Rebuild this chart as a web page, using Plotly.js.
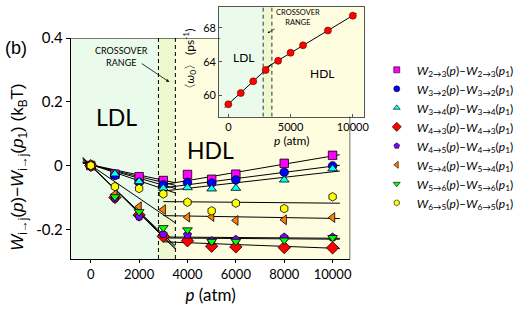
<!DOCTYPE html>
<html><head><meta charset="utf-8">
<script src="https://cdn.plot.ly/plotly-3.0.1.min.js"></script>
<style>body{margin:0;background:#fff}#c{width:525px;height:310px}</style>
</head><body><div id="c"></div>
<script>
// ---- data ----
const pressure = [0, 1000, 2000, 3000, 4000, 5000, 6000, 8000, 10000];
const W23 = [0, -0.027, -0.035, -0.047, -0.028, -0.043, -0.027, 0.007, 0.032];
const W32 = [0, -0.031, -0.053, -0.060, -0.053, -0.055, -0.045, -0.021, -0.001];
const W34 = [0, -0.026, -0.050, -0.071, -0.069, -0.073, -0.071, -0.045, -0.010];
const W43 = [0, -0.100, -0.155, -0.222, -0.236, -0.253, -0.255, -0.257, -0.258];
const W45 = [0, -0.103, -0.160, -0.215, -0.217, -0.236, -0.232, -0.225, -0.225];
const W54 = [0, -0.090, -0.129, -0.138, -0.162, -0.160, -0.172, -0.170, -0.163];
const W56 = [0, -0.098, -0.145, -0.195, -0.202, -0.238, -0.238, -0.234, -0.226];
const W65 = [0, -0.066, -0.072, -0.089, -0.115, -0.142, -0.118, -0.135, -0.098];
// fit line end values (LDL fit over ldlX, HDL fit over hdlX)
const ldlX = [-330, 3500];
const hdlX = [3000, 10300];
const ldlFit = {
  W23: [0.008, -0.054], W32: [0.008, -0.062], W34: [0.010, -0.072], W65: [0.012, -0.086],
  W54: [0.018, -0.180], W45: [0.025, -0.258], W56: [0.022, -0.252], W43: [0.025, -0.262]
};
const hdlFit = {
  W23: [-0.060, 0.034], W32: [-0.070, 0.001], W34: [-0.080, -0.017], W65: [-0.113, -0.118],
  W54: [-0.157, -0.166], W45: [-0.224, -0.228], W56: [-0.227, -0.231], W43: [-0.239, -0.260]
};
const seriesKeys = ['W23', 'W32', 'W34', 'W43', 'W45', 'W54', 'W56', 'W65'];
const seriesVals = {W23, W32, W34, W43, W45, W54, W56, W65};
const seriesSub = {W23: '2→3', W32: '3→2', W34: '3→4', W43: '4→3', W45: '4→5', W54: '5→4', W56: '5→6', W65: '6→5'};
const colors = {W23: '#ff00ff', W32: '#0000ff', W34: '#00ffff', W43: '#ff0000', W45: '#8000ff', W54: '#ff7f00', W56: '#00ff00', W65: '#ffff00'};
const symbols = {W23: 'square', W32: 'circle', W34: 'triangle-up', W43: 'diamond', W45: 'pentagon', W54: 'triangle-left', W56: 'triangle-down', W65: 'hexagon'};
const xTickVals = [0, 2000, 4000, 6000, 8000, 10000];
const xTickText = ['0', '2000', '4000', '6000', '8000', '10000'];
const yTickVals = [-0.2, 0, 0.2, 0.4];
const yTickText = ['-0.2', '0', '0.2', '0.4'];
// inset data
const insetP = [0, 1000, 2000, 3000, 4000, 5000, 6000, 8000, 10000];
const insetW = [58.93, 60.27, 61.66, 63.0, 64.1, 65.06, 65.94, 67.7, 69.46];
const insetLdlX = [-300, 3500], insetLdlY = [58.55, 63.7];
const insetHdlX = [3000, 10300], insetHdlY = [63.25, 69.75];
const insetXTickVals = [0, 5000, 10000], insetXTickText = ['0', '5000', '10000'];
const insetYTickVals = [60, 64, 68];
const crossover = [2800, 3500];

// ---- traces ----
const traces = [];
seriesKeys.forEach(k => {
  traces.push({x: ldlX, y: ldlFit[k], mode: 'lines', line: {color: '#000', width: 1}, showlegend: false, hoverinfo: 'skip'});
  traces.push({x: hdlX, y: hdlFit[k], mode: 'lines', line: {color: '#000', width: 1}, showlegend: false, hoverinfo: 'skip'});
});
seriesKeys.forEach(k => {
  traces.push({
    x: pressure, y: seriesVals[k], mode: 'markers', showlegend: false,
    marker: {color: colors[k], symbol: symbols[k], size: (k === 'W43' ? 9.5 : 8.5), line: {color: '#000', width: 0.8}}
  });
});
// legend entries (smaller symbols as in the reference legend)
seriesKeys.forEach(k => {
  const s = seriesSub[k];
  traces.push({
    x: [null], y: [null], mode: 'markers',
    name: '<i>W</i><sub>' + s + '</sub>(<i>p</i>)–<i>W</i><sub>' + s + '</sub>(<i>p</i><sub>1</sub>)',
    marker: {color: colors[k], symbol: symbols[k], size: (k === 'W43' ? 7 : 6), line: {color: '#000', width: 0.6}}
  });
});
traces.push({x: insetLdlX, y: insetLdlY, xaxis: 'x2', yaxis: 'y2', mode: 'lines', line: {color: '#000', width: 1}, showlegend: false});
traces.push({x: insetHdlX, y: insetHdlY, xaxis: 'x2', yaxis: 'y2', mode: 'lines', line: {color: '#000', width: 1}, showlegend: false});
traces.push({x: insetP, y: insetW, xaxis: 'x2', yaxis: 'y2', mode: 'markers', showlegend: false,
  marker: {color: '#ff0000', size: 7, line: {color: '#600', width: 0.6}}});

const xr = [-816, 10730], yr = [-0.293, 0.4];
const x2r = [-735, 10900], y2r = [57.46, 70.53];
const cL = '#ebfbeb', cC = '#eef8cf', cH = '#fefde0';
const shapes = [
  {type: 'rect', xref: 'x', yref: 'y', x0: xr[0], x1: crossover[0], y0: yr[0], y1: yr[1], fillcolor: cL, line: {width: 0}, layer: 'below'},
  {type: 'rect', xref: 'x', yref: 'y', x0: crossover[0], x1: crossover[1], y0: yr[0], y1: yr[1], fillcolor: cC, line: {width: 0}, layer: 'below'},
  {type: 'rect', xref: 'x', yref: 'y', x0: crossover[1], x1: xr[1], y0: yr[0], y1: yr[1], fillcolor: cH, line: {width: 0}, layer: 'below'},
  {type: 'line', xref: 'x', yref: 'y', x0: crossover[0], x1: crossover[0], y0: yr[0], y1: yr[1], line: {color: '#000', width: 1, dash: '4px,3px'}, layer: 'below'},
  {type: 'line', xref: 'x', yref: 'y', x0: crossover[1], x1: crossover[1], y0: yr[0], y1: yr[1], line: {color: '#000', width: 1, dash: '4px,3px'}, layer: 'below'},
  {type: 'rect', xref: 'x2', yref: 'y2', x0: x2r[0], x1: crossover[0], y0: y2r[0], y1: y2r[1], fillcolor: cL, line: {width: 0}, layer: 'below'},
  {type: 'rect', xref: 'x2', yref: 'y2', x0: crossover[0], x1: crossover[1], y0: y2r[0], y1: y2r[1], fillcolor: cC, line: {width: 0}, layer: 'below'},
  {type: 'rect', xref: 'x2', yref: 'y2', x0: crossover[1], x1: x2r[1], y0: y2r[0], y1: y2r[1], fillcolor: cH, line: {width: 0}, layer: 'below'},
  {type: 'line', xref: 'x2', yref: 'y2', x0: crossover[0], x1: crossover[0], y0: y2r[0], y1: y2r[1], line: {color: '#333', width: 1, dash: '4px,3px'}, layer: 'below'},
  {type: 'line', xref: 'x2', yref: 'y2', x0: crossover[1], x1: crossover[1], y0: y2r[0], y1: y2r[1], line: {color: '#333', width: 1, dash: '4px,3px'}, layer: 'below'},
  // main frame top & right (stop at inset)
  {type: 'line', xref: 'x', yref: 'y', x0: xr[0], x1: 5360, y0: yr[1], y1: yr[1], line: {color: '#000', width: 1.2}},
  {type: 'line', xref: 'x', yref: 'y', x0: xr[1], x1: xr[1], y0: yr[0], y1: 0.154, line: {color: '#000', width: 1.2}}
];

const F = 'Lato, "Open Sans", sans-serif';
const C = {xanchor: 'center', yanchor: 'middle', showarrow: false};
const annotations = [
  Object.assign({xref: 'paper', yref: 'paper', x: -0.187, y: 0.834, text: '(b)', font: {family: 'Liberation Sans, Arial', size: 18, color: '#000'}}, C),
  Object.assign({xref: 'paper', yref: 'paper', x: -0.177, y: 0.364, textangle: -90,
   text: '<i>W</i><sub>i→j</sub>(<i>p</i>)−<i>W</i><sub>i→j</sub>(<i>p</i><sub>1</sub>) (k<sub>B</sub>T)',
   font: {family: 'Liberation Sans, Arial', size: 17, color: '#000'}}, C),
  Object.assign({xref: 'x', yref: 'y', x: 1050, y: 0.153, text: 'LDL', font: {family: F, size: 23, color: '#000'}}, C),
  Object.assign({xref: 'x', yref: 'y', x: 4950, y: 0.05, text: 'HDL', font: {family: F, size: 23, color: '#000'}}, C),
  Object.assign({xref: 'x', yref: 'y', x: 1280, y: 0.342, text: 'CROSSOVER<br>RANGE', font: {family: F, size: 9, color: '#000'}}, C),
  {xref: 'x', yref: 'y', ax: 2050, ay: 0.323, axref: 'x', ayref: 'y', x: 3250, y: 0.262, text: '', showarrow: true, arrowhead: 2, arrowsize: 0.8, arrowwidth: 0.8, arrowcolor: '#000'},
  Object.assign({xref: 'x2', yref: 'y2', x: 1250, y: 64.5, text: 'LDL', font: {family: F, size: 12, color: '#000'}}, C),
  Object.assign({xref: 'x2', yref: 'y2', x: 7550, y: 62.6, text: 'HDL', font: {family: F, size: 12, color: '#000'}}, C),
  Object.assign({xref: 'x2', yref: 'y2', x: 5600, y: 69.3, text: 'CROSSOVER<br>RANGE', font: {family: F, size: 7.5, color: '#000'}}, C),
  {xref: 'x2', yref: 'y2', ax: 3850, ay: 68.0, axref: 'x2', ayref: 'y2', x: 3150, y: 67.4, text: '', showarrow: true, arrowhead: 2, arrowsize: 0.6, arrowwidth: 0.7, arrowcolor: '#000'},
  Object.assign({xref: 'paper', yref: 'paper', x: 0.403, y: 0.779, textangle: -90,
   text: '〈<i>ω</i><sub>0</sub>〉 (ps<sup>-1</sup>)', font: {family: F, size: 12, color: '#000'}}, C),
  Object.assign({xref: 'paper', yref: 'paper', x: 0.749, y: 0.468,
   text: '<i>p</i> (atm)', font: {family: F, size: 12, color: '#000'}}, C)
];

const layout = {
  width: 525, height: 310,
  margin: {l: 71, r: 155, t: 6, b: 51},
  paper_bgcolor: '#fff', plot_bgcolor: 'rgba(0,0,0,0)',
  showlegend: true,
  legend: {x: 1.04, y: 0.805, xanchor: 'left', yanchor: 'top', font: {family: F, size: 12, color: '#000'}, bgcolor: 'rgba(0,0,0,0)', itemwidth: 30, tracegroupgap: 0, itemsizing: 'trace'},
  xaxis: {domain: [0, 0.9498], range: xr, showgrid: false, zeroline: false, showline: true, linecolor: '#000', linewidth: 1.2,
    tickvals: xTickVals, ticktext: xTickText, ticks: 'outside', ticklen: 3, tickcolor: '#000',
    tickfont: {family: F, size: 13, color: '#000'},
    title: {text: '<i>p</i> (atm)', font: {family: F, size: 17, color: '#000'}, standoff: 8}},
  yaxis: {domain: [0, 0.8735], range: yr, showgrid: false, zeroline: false, showline: true, linecolor: '#000', linewidth: 1.2,
    tickvals: yTickVals, ticktext: yTickText, ticks: 'outside', ticklen: 4, tickcolor: '#000',
    tickfont: {family: F, size: 15, color: '#000'}},
  xaxis2: {domain: [0.504, 0.9967], anchor: 'y2', range: x2r, showgrid: false, zeroline: false, showline: true, mirror: true, linecolor: '#555', linewidth: 1,
    tickvals: insetXTickVals, ticktext: insetXTickText, ticks: 'inside', ticklen: 3, tickcolor: '#555', tickfont: {family: F, size: 11, color: '#000'}},
  yaxis2: {domain: [0.5625, 0.9972], anchor: 'x2', range: y2r, showgrid: false, zeroline: false, showline: true, mirror: true, linecolor: '#555', linewidth: 1,
    tickvals: insetYTickVals, ticks: 'inside', ticklen: 3, tickcolor: '#555', tickfont: {family: F, size: 11, color: '#000'}},
  shapes, annotations
};
Plotly.newPlot('c', traces, layout, {staticPlot: true, displayModeBar: false});
</script></body></html>
